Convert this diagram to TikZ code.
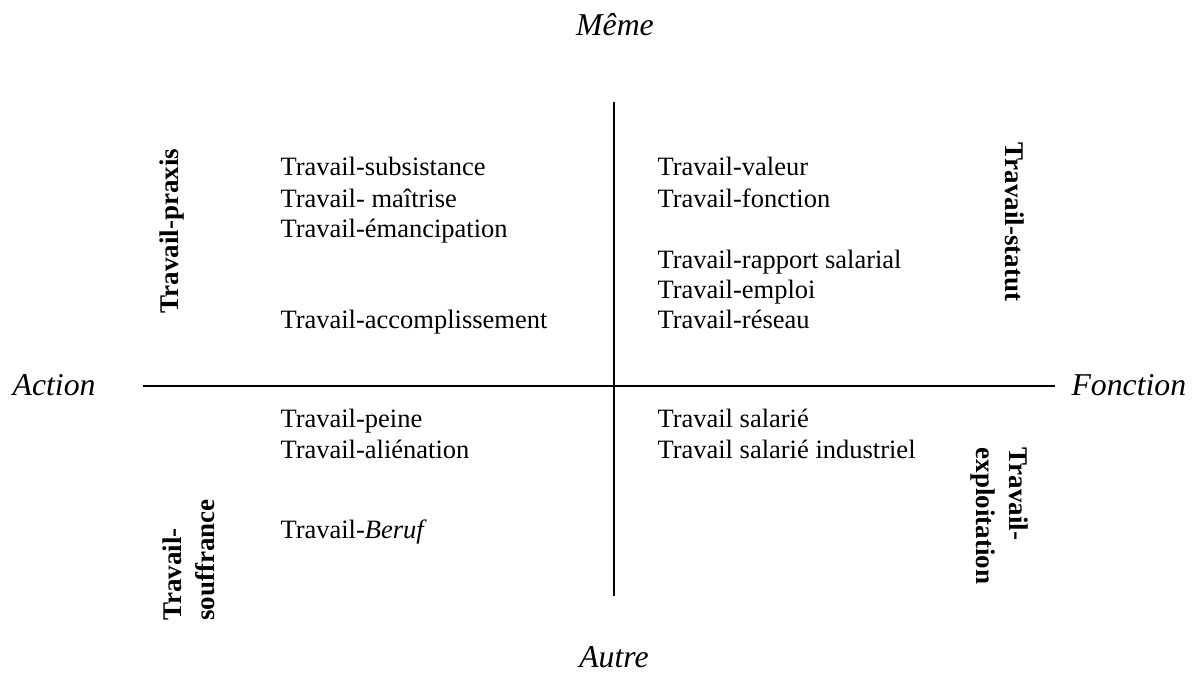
\documentclass[tikz,border=0pt]{standalone}
\usepackage{fontspec}
\setmainfont{Liberation Serif}
\usetikzlibrary{positioning}

\begin{document}
\begin{tikzpicture}[x=0.4pt,y=-0.4pt,
		axe/.style={line width=0.6pt},
		item/.style={anchor=base west,inner sep=0pt,font=\fontsize{10.6}{12.3}\selectfont},
		pole/.style={inner sep=0pt,font=\fontsize{12.7}{14}\selectfont\itshape},
		famille/.style={inner sep=0pt,align=left,font=\fontsize{10.8}{13.2}\selectfont\bfseries}]
		\useasboundingbox (0,0) rectangle (1194,673);
		
		% axes
		\coordinate (haut) at (614,102);
		\coordinate (bas) at (614,596);
		\coordinate (gauche) at (143,386);
		\coordinate (droite) at (1055,386);
		\draw[axe] (haut) -- (bas);
		\draw[axe] (gauche) -- (droite);
		
		% poles
		\node[pole,anchor=base] (meme) at (615,35) {Même};
		\node[pole,anchor=base] (autre) at (614,667) {Autre};
		\node[pole,anchor=base east] (action) at (96,395) {Action};
		\node[pole,anchor=base west] (fonction) at (1071,395) {Fonction};
		
		% familles
		\node[famille,rotate=90] (praxis) at (172,231) {Travail-praxis};
		\node[famille,rotate=-90] (statut) at (1015,222) {Travail-statut};
		\node[famille,rotate=90] (souffrance) at (189,560) {Travail-\\souffrance};
		\node[famille,rotate=-90] (exploitation) at (999,516) {Travail-\\exploitation};
		
		% quadrant haut gauche
		\node[item] (subsistance) at (280,175) {Travail-subsistance};
		\node[item] (maitrise) at (280,207) {Travail- maîtrise};
		\node[item] (emancipation) at (280,237) {Travail-émancipation};
		\node[item] (accomplissement) at (280,328) {Travail-accomplissement};
		
		% quadrant haut droite
		\node[item] (valeur) at (657,175) {Travail-valeur};
		\node[item] (fonct) at (657,207) {Travail-fonction};
		\node[item] (rapport) at (657,268) {Travail-rapport salarial};
		\node[item] (emploi) at (657,298) {Travail-emploi};
		\node[item] (reseau) at (657,328) {Travail-réseau};
		
		% quadrant bas gauche
		\node[item] (peine) at (280,427) {Travail-peine};
		\node[item] (alienation) at (280,458) {Travail-aliénation};
		\node[item] (beruf) at (280,538) {Travail-\textit{Beruf}};
		
		% quadrant bas droite
		\node[item] (salarie) at (657,427) {Travail salarié};
		\node[item] (industriel) at (657,458) {Travail salarié industriel};
	\end{tikzpicture}
\end{document}
